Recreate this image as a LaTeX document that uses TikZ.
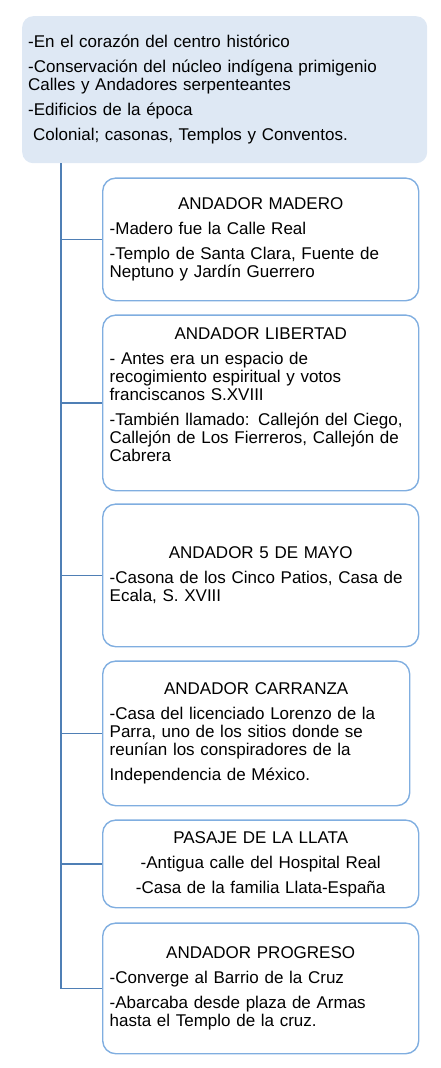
\documentclass[tikz,border=0pt]{standalone}
\usepackage{fontspec}
\setmainfont{Liberation Sans}
\usepackage{tikz}
\usetikzlibrary{positioning}
\definecolor{hubfill}{HTML}{DEE8F4}
\definecolor{boxline}{HTML}{80AEE0}
\definecolor{trunkline}{HTML}{4F7FB5}
\newcommand{\boxfont}{\fontsize{17}{18}\selectfont}
\newcommand{\ttl}[1]{{\centering #1\par}\vspace{7pt}}
\tikzset{
hub/.style={shape=rectangle, rounded corners=11pt, fill=hubfill, text width=393pt, inner xsep=6pt, inner ysep=0pt, align=left, font=\boxfont, anchor=north west}, andador/.style={shape=rectangle, rounded corners=13pt, draw=boxline, line width=1.4pt, text width=302pt, inner xsep=7pt, inner ysep=0pt, align=left, font=\boxfont}, link/.style={draw=trunkline, line width=1.3pt}}

\begin{document}
\begin{tikzpicture}
\useasboundingbox (0,0) rectangle (440pt,-1068pt);
\node [hub, minimum height=147pt] (hub) at (22pt,-16pt) {-En el coraz\'on del centro hist\'orico\\[7pt]
-Conservaci\'on del n\'ucleo ind\'igena primigenio\\
Calles y Andadores serpenteantes\\[7pt]
-Edificios de la \'epoca\\[7pt]
\hspace*{5pt}Colonial; casonas, Templos y Conventos.};
\node [andador, minimum height=122.6pt, below=14pt of hub.south west, xshift=80pt, anchor=north west] (madero) {\ttl{ANDADOR MADERO}
-Madero fue la Calle Real\\[7pt]
-Templo de Santa Clara, Fuente de\\
Neptuno y Jard\'in Guerrero};
\node [andador, minimum height=175.6pt, below=13pt of madero.south west, anchor=north west] (libertad) {\ttl{ANDADOR LIBERTAD}
- Antes era un espacio de\\
recogimiento espiritual y votos\\
franciscanos S.XVIII\\[7pt]
-Tambi\'en llamado: Callej\'on del Ciego,\\
Callej\'on de Los Fierreros, Callej\'on de\\
Cabrera\\[-2pt]\mbox{}};
\node [andador, minimum height=142.6pt, below=12pt of libertad.south west, anchor=north west] (mayo) {\ttl{ANDADOR 5 DE MAYO}
-Casona de los Cinco Patios, Casa de\\
Ecala, S. XVIII};
\node [andador, text width=293pt, minimum height=144.6pt, below=13pt of mayo.south west, anchor=north west] (carranza) {\ttl{ANDADOR CARRANZA}
-Casa del licenciado Lorenzo de la\\
Parra, uno de los sitios donde se\\
reun\'ian los conspiradores de la\\[7pt]
Independencia de M\'exico.};
\node [andador, align=center, minimum height=87.6pt, below=13pt of carranza.south west, anchor=north west] (llata) {PASAJE DE LA LLATA\\[7pt]
-Antigua calle del Hospital Real\\[7pt]
-Casa de la familia Llata-Espa\~na};
\node [andador, minimum height=130.6pt, below=14pt of llata.south west, anchor=north west] (progreso) {\ttl{ANDADOR PROGRESO}
-Converge al Barrio de la Cruz\\[7pt]
-Abarcaba desde plaza de Armas\\
hasta el Templo de la cruz.};
\coordinate [right=39pt of hub.south west] (trunk);
\draw [link] (trunk) |- (progreso.west);
\draw [link] (trunk |- madero.west) -- (madero.west);
\draw [link] (trunk |- libertad.west) -- (libertad.west);
\draw [link] (trunk |- mayo.west) -- (mayo.west);
\draw [link] (trunk |- carranza.west) -- (carranza.west);
\draw [link] (trunk |- llata.west) -- (llata.west);
\end{tikzpicture}
\end{document}
